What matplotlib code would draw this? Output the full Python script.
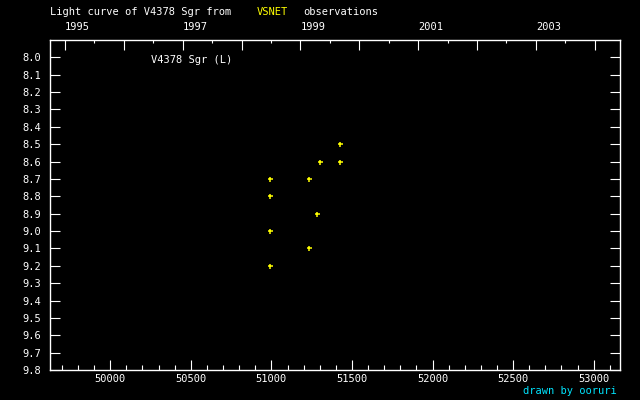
#!/usr/bin/env python3
"""Light curve of V4378 Sgr from VSNET observations (JD vs. visual magnitude)."""

import matplotlib
matplotlib.use("Agg")
import matplotlib.pyplot as plt
from matplotlib.ticker import MultipleLocator, FixedLocator, NullFormatter

# observations: JD - 2400000 and magnitude
jd = [51428, 51304, 51428, 50993, 51235, 50993, 51285, 50993, 51235, 50993]
mag = [8.5, 8.6, 8.6, 8.7, 8.7, 8.8, 8.9, 9.0, 9.1, 9.2]

# Jan 1 of each year (JD - 2400000) for the top axis
years = [1995, 1996, 1997, 1998, 1999, 2000, 2001, 2002, 2003, 2004]
year_jd = [49718.5, 50083.5, 50449.5, 50814.5, 51179.5,
           51544.5, 51910.5, 52275.5, 52640.5, 53005.5]
year_labels = [str(y) if y % 2 == 1 else "" for y in years]

y_ticks = [round(8.0 + 0.1 * i, 1) for i in range(19)]

FG = "white"
FS = 7.5
plt.rcParams["font.family"] = ["DejaVu Sans Mono"]

fig = plt.figure(figsize=(6.4, 4.0), dpi=100, facecolor="black")
ax = fig.add_axes([50.3 / 640, 1 - 370 / 400, 570 / 640, 329.7 / 400])
ax.set_facecolor("black")

ax.plot(jd, mag, linestyle="none", marker="+", ms=3.6, mew=1.1, color="#ffff00")

ax.set_xlim(49628, 53165)
ax.set_ylim(9.8, 7.902)

for s in ax.spines.values():
    s.set_color(FG)
    s.set_linewidth(1.0)

# bottom axis: JD
ax.xaxis.set_major_locator(MultipleLocator(500))
ax.xaxis.set_minor_locator(MultipleLocator(100))
ax.tick_params(axis="x", which="major", direction="in", length=7.2, width=0.8,
               color=FG, labelcolor=FG, labelsize=FS, pad=3, top=False)
ax.tick_params(axis="x", which="minor", direction="in", length=3.6, width=0.8,
               color=FG, top=False)

# left / right axis: magnitude
ax.set_yticks(y_ticks)
ax.set_yticklabels([f"{v:.1f}" for v in y_ticks])
ax.tick_params(axis="y", which="major", direction="in", length=7.2, width=0.8,
               color=FG, labelcolor=FG, labelsize=FS, pad=6.5, right=True)

# top axis: years
ax2 = ax.twiny()
ax2.set_xlim(ax.get_xlim())
ax2.xaxis.set_major_locator(FixedLocator(year_jd))
ax2.set_xticklabels(year_labels)
half = [(a + b) / 2 for a, b in zip(year_jd[:-1], year_jd[1:])]
ax2.xaxis.set_minor_locator(FixedLocator(half))
ax2.xaxis.set_minor_formatter(NullFormatter())
ax2.tick_params(axis="x", which="major", direction="in", length=7.2, width=0.8,
                color=FG, labelcolor=FG, labelsize=FS, pad=6)
ax2.tick_params(axis="x", which="minor", direction="in", length=2.2, width=0.8,
                color=FG)
for t in ax2.get_xticklabels():
    t.set_ha("left")
for s in ax2.spines.values():
    s.set_visible(False)

# title pieces
fig.text(50 / 640, 1 - 12 / 400, "Light curve of V4378 Sgr from", color=FG,
         fontsize=FS, ha="left", va="center")
fig.text(257 / 640, 1 - 12 / 400, "VSNET", color="#ffff00",
         fontsize=FS, ha="left", va="center")
fig.text(303 / 640, 1 - 12 / 400, "observations", color=FG,
         fontsize=FS, ha="left", va="center")
fig.text(151 / 640, 1 - 60 / 400, "V4378 Sgr (L)", color=FG,
         fontsize=FS, ha="left", va="center")
fig.text(617 / 640, 1 - 391 / 400, "drawn by ooruri", color="#00e5ff",
         fontsize=FS, ha="right", va="center")

fig.savefig("out.png", dpi=100, facecolor="black")
